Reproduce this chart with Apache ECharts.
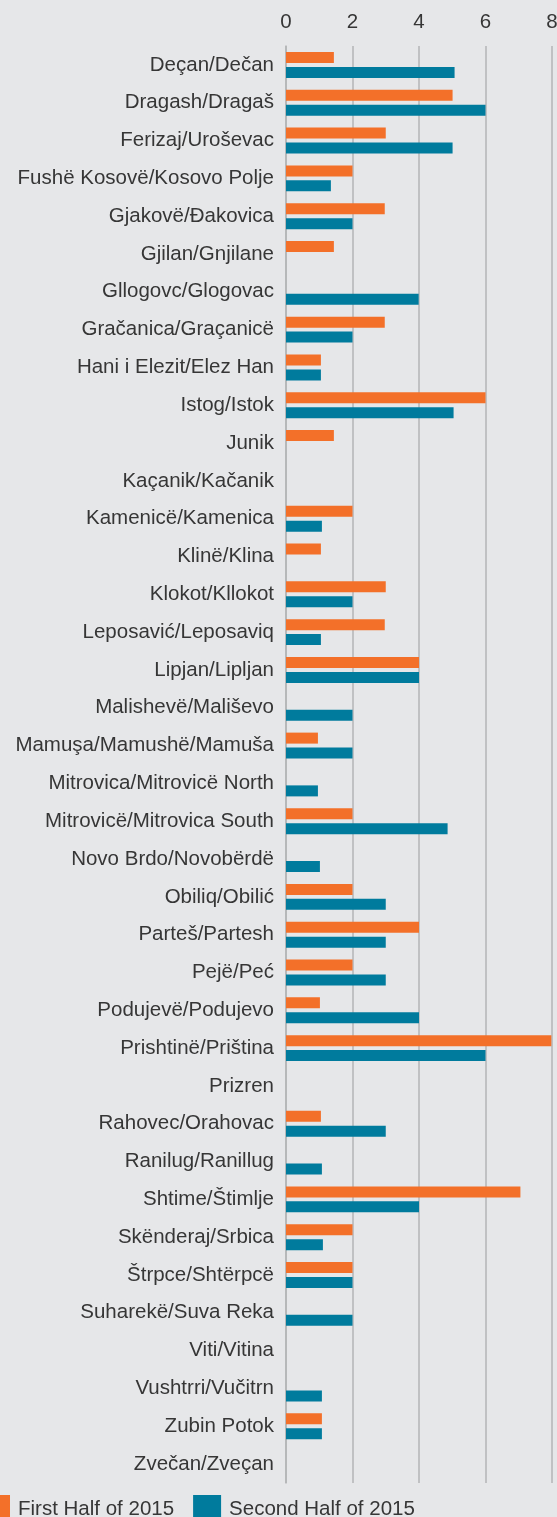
<!DOCTYPE html>
<html>
<head>
<meta charset="utf-8">
<script src="https://cdn.jsdelivr.net/npm/echarts@6/dist/echarts.min.js"></script>
<style>
  html, body {margin: 0; padding: 0; background: #e6e7e9;}
  #chart {width: 557px; height: 1517px;}
</style>
</head>
<body>
<div id="chart"></div>
<script>
// municipalities, top to bottom
const municipalities = [
  "Deçan/Dečan", "Dragash/Dragaš", "Ferizaj/Uroševac", "Fushë Kosovë/Kosovo Polje",
  "Gjakovë/Đakovica", "Gjilan/Gnjilane", "Gllogovc/Glogovac", "Gračanica/Graçanicë",
  "Hani i Elezit/Elez Han", "Istog/Istok", "Junik", "Kaçanik/Kačanik",
  "Kamenicë/Kamenica", "Klinë/Klina", "Klokot/Kllokot", "Leposavić/Leposaviq",
  "Lipjan/Lipljan", "Malishevë/Mališevo", "Mamuşa/Mamushë/Mamuša", "Mitrovica/Mitrovicë North",
  "Mitrovicë/Mitrovica South", "Novo Brdo/Novobërdë", "Obiliq/Obilić", "Parteš/Partesh",
  "Pejë/Peć", "Podujevë/Podujevo", "Prishtinë/Priština", "Prizren",
  "Rahovec/Orahovac", "Ranilug/Ranillug", "Shtime/Štimlje", "Skënderaj/Srbica",
  "Štrpce/Shtërpcë", "Suharekë/Suva Reka", "Viti/Vitina", "Vushtrri/Vučitrn",
  "Zubin Potok", "Zvečan/Zveçan",
];

const firstHalf = [
  1.44, 5.01, 3.0, 2.0,
  2.97, 1.44, 0, 2.97,
  1.05, 6.0, 1.44, 0,
  2.0, 1.05, 3.0, 2.97,
  4.0, 0, 0.96, 0,
  2.0, 0, 2.0, 4.0,
  2.0, 1.02, 7.98, 0,
  1.05, 0, 7.05, 2.0,
  2.0, 0, 0, 0,
  1.08, 0,
];

const secondHalf = [
  5.07, 6.0, 5.01, 1.35,
  2.0, 0, 3.99, 2.0,
  1.05, 5.04, 0, 0,
  1.08, 0, 2.0, 1.05,
  4.0, 2.0, 2.0, 0.96,
  4.86, 1.02, 3.0, 3.0,
  3.0, 4.0, 6.0, 0,
  3.0, 1.08, 4.0, 1.11,
  2.0, 2.0, 0, 1.08,
  1.08, 0,
];

const seriesNames = ["First Half of 2015", "Second Half of 2015"];
const xTicks = [0, 2, 4, 6, 8];

const textColor = "#363636";
const gridColor = "#b3b4b6";
const fontFamily = "'Liberation Sans', Arial, sans-serif";

const chart = echarts.init(document.getElementById("chart"));

const option = {
  backgroundColor: "#e6e7e9",
  animation: false,
  textStyle: {fontFamily: fontFamily},
  grid: {left: 286, right: 5, top: 46, height: 1437, containLabel: false, outerBoundsMode: "none"},
  legend: {
    data: seriesNames,
    left: -18,
    top: 1495,
    padding: 0,
    icon: "rect",
    itemWidth: 28,
    itemHeight: 28,
    itemGap: 19,
    textStyle: {fontSize: 20.5, color: textColor, fontFamily: fontFamily, padding: [0, 0, 3, 3]},
  },
  xAxis: {
    type: "value",
    position: "top",
    min: xTicks[0],
    max: xTicks[xTicks.length - 1],
    interval: 2,
    axisLine: {show: false},
    axisTick: {show: false},
    axisLabel: {fontSize: 20.5, color: textColor, margin: 13},
    splitLine: {show: true, lineStyle: {color: gridColor, width: 1.5}},
  },
  yAxis: {
    type: "category",
    inverse: true,
    data: municipalities,
    axisLine: {show: true, lineStyle: {color: gridColor, width: 1.5}},
    axisTick: {show: false},
    axisLabel: {fontSize: 20.5, color: textColor, margin: 12},
  },
  series: [
    {
      name: seriesNames[0],
      type: "bar",
      data: firstHalf,
      barWidth: 11,
      barGap: "36%",
      itemStyle: {color: "#f37029"},
    },
    {
      name: seriesNames[1],
      type: "bar",
      data: secondHalf,
      barWidth: 11,
      barGap: "36%",
      itemStyle: {color: "#007b9d"},
    },
  ],
};

chart.setOption(option);
</script>
</body>
</html>
